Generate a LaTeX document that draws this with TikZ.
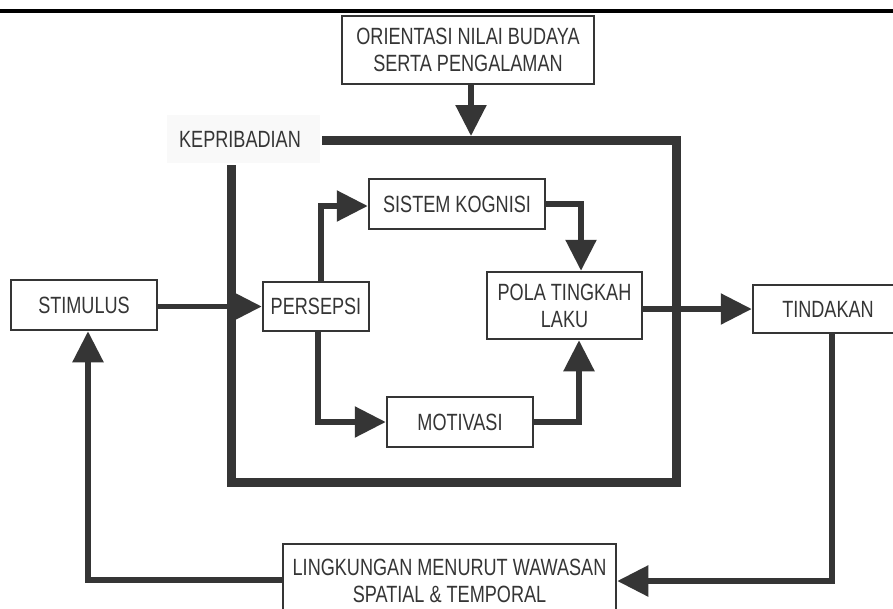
\documentclass[tikz,border=0pt]{standalone}
\usepackage{fontspec}
\setmainfont{Liberation Sans}[FakeStretch=0.77]
\usetikzlibrary{arrows.meta}
\definecolor{dk}{HTML}{353535}
\definecolor{kbg}{HTML}{F9F9F9}
\tikzset{
  box/.style={draw=dk, line width=2.5pt, fill=white, align=center, inner sep=0pt,
    text=dk, font=\fontsize{23.5}{27}\selectfont},
  conn/.style={draw=dk, line width=5.5pt, -{Triangle[length=31pt,width=30pt]}},
  frame/.style={draw=dk, line width=9pt, line join=miter},
}
\begin{document}
\begin{tikzpicture}[x=1pt,y=-1pt]
\useasboundingbox (0,0) rectangle (893,608);
\clip (0,0) rectangle (893,608);
\fill[white] (0,0) rectangle (893,608);
% top rule
\draw[black, line width=4pt] (0,11) -- (893,11);
% KEPRIBADIAN label with faint background
\fill[kbg] (167,115) rectangle (320,163);
\node[text=dk, font=\fontsize{23.5}{28}\selectfont, inner sep=0pt] (kep) at (240,139) {KEPRIBADIAN};
% frame
\draw[frame] (322,140) -- (676,140) -- (676,482) -- (231,482) -- (231,165);
% boxes
\node[box, minimum width=252pt, minimum height=68pt] (orient) at (468,50) {ORIENTASI NILAI BUDAYA\\SERTA PENGALAMAN};
\node[box, minimum width=146pt, minimum height=50pt] (stim) at (84,305) {STIMULUS};
\node[box, minimum width=106pt, minimum height=49pt] (pers) at (316,306.5) {PERSEPSI};
\node[box, minimum width=176pt, minimum height=50pt] (sist) at (457,204) {SISTEM KOGNISI};
\node[box, minimum width=155pt, minimum height=67pt] (pola) at (564.5,305.5) {POLA TINGKAH\\LAKU};
\node[box, minimum width=146pt, minimum height=50pt] (motiv) at (460,422) {MOTIVASI};
\node[box, minimum width=150pt, minimum height=48pt] (tind) at (828,309) {TINDAKAN};
\node[box, minimum width=333pt, minimum height=74pt] (ling) at (449.5,581) {LINGKUNGAN MENURUT WAWASAN\\SPATIAL \& TEMPORAL};
% connectors
\coordinate (ftop) at (471,136);
\draw[conn] ([xshift=3pt]orient.south) -- (ftop);
\draw[conn] (stim.east |- pers.west) -- (pers.west);
\draw[conn] ([xshift=5pt]pers.north) |- ([yshift=-2pt]sist.west);
\draw[conn] (sist.east) -| ([xshift=16.5pt]pola.north);
\draw[conn] ([xshift=2pt]pers.south) |- (motiv.west);
\draw[conn] (motiv.east) -| ([xshift=14.5pt]pola.south);
\draw[conn] ([yshift=-3.5pt]pola.east) -- ([yshift=-3.5pt]pola.east -| tind.west);
\draw[conn] ([xshift=4pt]tind.south) |- (ling.east);
\draw[conn] ([yshift=1pt]ling.west) -| ([xshift=4pt]stim.south);
\end{tikzpicture}
\end{document}
